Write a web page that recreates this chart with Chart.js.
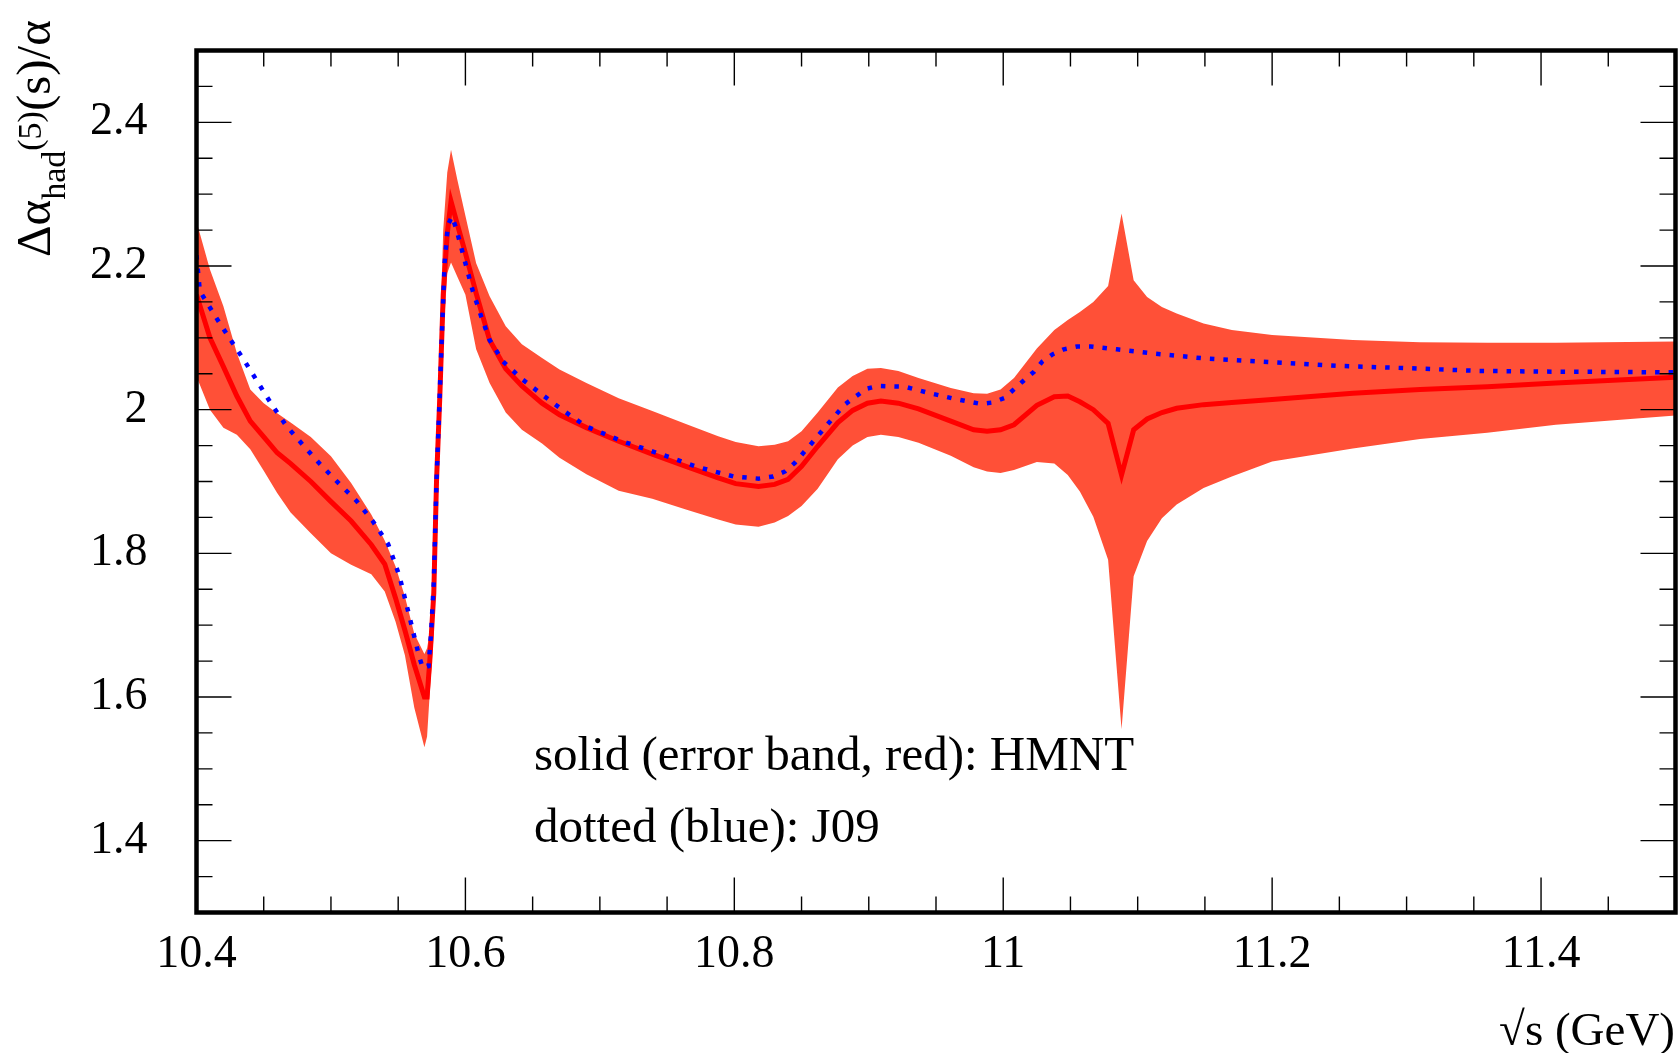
<!DOCTYPE html>
<html>
<head>
<meta charset="utf-8">
<script src="https://cdn.jsdelivr.net/npm/chart.js@4.4.0/dist/chart.umd.min.js"></script>
<style>
html, body { margin: 0; padding: 0; background: #ffffff; }
canvas { display: block; }
</style>
</head>
<body>
<canvas id="c" width="1678" height="1053"></canvas>
<script>
// ---------------- data ----------------
const hmntEnergy = [10.400, 10.410, 10.420, 10.430, 10.440, 10.450, 10.460, 10.470, 10.485, 10.500,
  10.515, 10.530, 10.540, 10.548, 10.555, 10.562, 10.5695, 10.5715, 10.5735, 10.5765,
  10.5785, 10.581, 10.5835, 10.5865, 10.5893, 10.594, 10.600, 10.608, 10.618, 10.630,
  10.642, 10.657, 10.670, 10.690, 10.714, 10.739, 10.764, 10.788, 10.801, 10.818,
  10.830, 10.840, 10.850, 10.862, 10.877, 10.888, 10.899, 10.909, 10.922, 10.937,
  10.961, 10.978, 10.988, 10.998, 11.008, 11.025, 11.038, 11.048, 11.057, 11.067,
  11.078, 11.088, 11.097, 11.107, 11.118, 11.129, 11.149, 11.170, 11.200, 11.260,
  11.310, 11.360, 11.411, 11.500];
const hmntCentral = [2.160, 2.100, 2.060, 2.019, 1.984, 1.962, 1.940, 1.925, 1.900, 1.872,
  1.845, 1.812, 1.785, 1.738, 1.693, 1.645, 1.600, 1.600, 1.650, 1.745,
  1.900, 2.020, 2.160, 2.245, 2.290, 2.258, 2.218, 2.162, 2.097, 2.057,
  2.033, 2.009, 1.993, 1.975, 1.956, 1.938, 1.921, 1.905, 1.897, 1.893,
  1.896, 1.903, 1.921, 1.949, 1.982, 1.999, 2.009, 2.012, 2.009, 2.001,
  1.984, 1.972, 1.970, 1.972, 1.979, 2.006, 2.018, 2.019, 2.011, 2.000,
  1.981, 1.909, 1.972, 1.987, 1.996, 2.002, 2.007, 2.010, 2.014, 2.023,
  2.028, 2.032, 2.037, 2.045];
const hmntUpper = [2.262, 2.195, 2.144, 2.079, 2.028, 2.009, 1.995, 1.982, 1.962, 1.935,
  1.898, 1.854, 1.818, 1.782, 1.740, 1.688, 1.660, 1.668, 1.690, 1.800,
  1.960, 2.090, 2.250, 2.330, 2.362, 2.320, 2.270, 2.204, 2.158, 2.116,
  2.091, 2.072, 2.056, 2.037, 2.016, 1.998, 1.980, 1.963, 1.955, 1.949,
  1.951, 1.956, 1.970, 1.996, 2.031, 2.047, 2.057, 2.058, 2.054, 2.044,
  2.030, 2.023, 2.022, 2.028, 2.044, 2.085, 2.111, 2.125, 2.136, 2.150,
  2.172, 2.273, 2.180, 2.157, 2.143, 2.134, 2.120, 2.111, 2.104, 2.097,
  2.094, 2.093, 2.093, 2.095];
const hmntLower = [2.046, 2.000, 1.975, 1.965, 1.945, 1.915, 1.884, 1.857, 1.828, 1.800,
  1.784, 1.771, 1.747, 1.705, 1.658, 1.585, 1.530, 1.545, 1.606, 1.690,
  1.840, 1.960, 2.100, 2.190, 2.205, 2.185, 2.160, 2.084, 2.037, 1.996,
  1.972, 1.953, 1.933, 1.910, 1.887, 1.876, 1.861, 1.847, 1.840, 1.837,
  1.843, 1.852, 1.866, 1.890, 1.931, 1.950, 1.962, 1.965, 1.962, 1.954,
  1.936, 1.920, 1.914, 1.912, 1.916, 1.927, 1.925, 1.909, 1.886, 1.851,
  1.791, 1.555, 1.768, 1.817, 1.849, 1.868, 1.891, 1.907, 1.928, 1.946,
  1.959, 1.968, 1.979, 1.992];

const j09Energy = [10.400, 10.4025, 10.414, 10.425, 10.435, 10.446, 10.456, 10.467, 10.480, 10.492,
  10.5055, 10.519, 10.531, 10.5425, 10.551, 10.5585, 10.5655, 10.5684, 10.5726, 10.5745,
  10.5765, 10.5785, 10.5805, 10.582, 10.5845, 10.587, 10.590, 10.593, 10.598, 10.6055,
  10.6117, 10.618, 10.628, 10.6425, 10.657, 10.6734, 10.6895, 10.7167, 10.7438, 10.771,
  10.7994, 10.818, 10.829, 10.8377, 10.845, 10.8574, 10.870, 10.882, 10.898, 10.907,
  10.9266, 10.9451, 10.964, 10.9834, 10.992, 11.0007, 11.0155, 11.023, 11.029, 11.0366,
  11.045, 11.055, 11.065, 11.0845, 11.113, 11.1514, 11.1996, 11.2477, 11.297, 11.354,
  11.402, 11.500];
const j09Values = [2.215, 2.165, 2.130, 2.098, 2.070, 2.037, 2.007, 1.977, 1.949, 1.924,
  1.898, 1.873, 1.845, 1.813, 1.768, 1.711, 1.657, 1.640, 1.643, 1.690,
  1.760, 1.900, 2.000, 2.079, 2.204, 2.257, 2.269, 2.253, 2.218, 2.165,
  2.130, 2.097, 2.067, 2.042, 2.021, 1.998, 1.977, 1.956, 1.939, 1.921,
  1.907, 1.904, 1.907, 1.914, 1.926, 1.953, 1.981, 2.007, 2.029, 2.033,
  2.032, 2.023, 2.015, 2.008, 2.010, 2.016, 2.041, 2.053, 2.067, 2.077,
  2.084, 2.088, 2.088, 2.084, 2.078, 2.071, 2.066, 2.061, 2.058, 2.054,
  2.053, 2.052];

const xTickValues = [10.4, 10.6, 10.8, 11.0, 11.2, 11.4];
const xTickLabels = ['10.4', '10.6', '10.8', '11', '11.2', '11.4'];
const yTickValues = [1.4, 1.6, 1.8, 2.0, 2.2, 2.4];
const yTickLabels = ['1.4', '1.6', '1.8', '2', '2.2', '2.4'];

const annotationLines = ['solid (error band, red): HMNT', 'dotted (blue): J09'];
const xTitle = '\u221As (GeV)';

// ---------------- styling ----------------
const SERIF = '"Liberation Serif", "Times New Roman", "DejaVu Serif", serif';
const BAND = '#ff5037';
const pts = (xs, ys) => xs.map((x, i) => ({ x: x, y: ys[i] }));

const overlay = {
  id: 'overlay',
  afterDraw(chart) {
    const { ctx, chartArea: a, scales: { x, y } } = chart;
    ctx.save();
    // inside ticks (ROOT style) on all four sides
    ctx.strokeStyle = '#000';
    ctx.lineWidth = 1.4;
    ctx.beginPath();
    for (let i = 0; i <= 22; i++) {
      const v = 10.4 + i * 0.05;
      const px = x.getPixelForValue(v);
      const L = (i % 4 === 0) ? 35 : 16;
      ctx.moveTo(px, a.bottom); ctx.lineTo(px, a.bottom - L);
      ctx.moveTo(px, a.top); ctx.lineTo(px, a.top + L);
    }
    for (let i = 1; i < 24; i++) {
      const v = 1.3 + i * 0.05;
      const py = y.getPixelForValue(v);
      const L = ((i - 2) % 4 === 0) ? 35 : 16;
      ctx.moveTo(a.left, py); ctx.lineTo(a.left + L, py);
      ctx.moveTo(a.right, py); ctx.lineTo(a.right - L, py);
    }
    ctx.stroke();
    // frame
    ctx.lineWidth = 4.5;
    ctx.strokeRect(a.left, a.top, a.right - a.left, a.bottom - a.top);

    // annotation
    ctx.fillStyle = '#000';
    ctx.textAlign = 'left';
    ctx.textBaseline = 'alphabetic';
    ctx.font = '49px ' + SERIF;
    ctx.fillText(annotationLines[0], 534, 770);
    ctx.fillText(annotationLines[1], 534, 842);

    // x title
    ctx.textAlign = 'right';
    ctx.font = '47px ' + SERIF;
    ctx.fillText(xTitle, 1675, 1045);

    // y title (rotated, rich text)
    ctx.translate(50, 257);
    ctx.rotate(-Math.PI / 2);
    ctx.textAlign = 'left';
    let u = 0;
    const part = (txt, size, dv) => {
      ctx.font = size + 'px ' + SERIF;
      ctx.fillText(txt, u, dv);
      u += ctx.measureText(txt).width;
    };
    part('\u0394\u03B1', 49, 0);
    part('had', 34, 15);
    part('(5)', 34, -9);
    part('(s)/\u03B1', 49, 0);
    ctx.restore();
  }
};

new Chart(document.getElementById('c'), {
  type: 'line',
  data: {
    datasets: [
      { label: 'band upper', data: pts(hmntEnergy, hmntUpper), borderWidth: 0, borderColor: BAND,
        pointRadius: 0, fill: false, order: 4, tension: 0 },
      { label: 'band lower', data: pts(hmntEnergy, hmntLower), borderWidth: 0, borderColor: BAND,
        backgroundColor: BAND, pointRadius: 0, fill: '-1', order: 3, tension: 0 },
      { label: 'HMNT', data: pts(hmntEnergy, hmntCentral), borderWidth: 5, borderColor: '#ff0000',
        pointRadius: 0, fill: false, order: 2, tension: 0, borderJoinStyle: 'miter' },
      { label: 'J09', data: pts(j09Energy, j09Values), borderWidth: 4.5, borderColor: '#0000ff',
        borderDash: [4.5, 9], borderCapStyle: 'butt', pointRadius: 0, fill: false, order: 1, tension: 0 }
    ]
  },
  options: {
    responsive: false,
    animation: false,
    events: [],
    layout: { padding: { top: 50.5, right: 2.5, left: 0, bottom: 0 } },
    plugins: { legend: { display: false }, tooltip: { enabled: false }, title: { display: false } },
    scales: {
      x: {
        type: 'linear', min: 10.4, max: 11.5,
        grid: { display: false, drawTicks: false },
        border: { display: false },
        afterBuildTicks: (s) => { s.ticks = xTickValues.map(v => ({ value: v })); },
        afterFit: (s) => { s.height = 140.5; s.paddingLeft = 0; s.paddingRight = 0; },
        ticks: {
          autoSkip: false, maxRotation: 0, minRotation: 0, padding: 15,
          color: '#000', font: { family: SERIF, size: 46 },
          callback: (v) => { const i = xTickValues.findIndex(t => Math.abs(t - v) < 1e-6); return i >= 0 ? xTickLabels[i] : ''; }
        }
      },
      y: {
        type: 'linear', min: 1.3, max: 2.5,
        grid: { display: false, drawTicks: false },
        border: { display: false },
        afterBuildTicks: (s) => { s.ticks = yTickValues.map(v => ({ value: v })); },
        afterFit: (s) => { s.width = 196.5; s.paddingTop = 0; s.paddingBottom = 0; },
        ticks: {
          autoSkip: false, padding: 49,
          color: '#000', font: { family: SERIF, size: 46 },
          callback: (v) => { const i = yTickValues.findIndex(t => Math.abs(t - v) < 1e-6); return i >= 0 ? yTickLabels[i] : ''; }
        }
      }
    }
  },
  plugins: [overlay]
});
</script>
</body>
</html>
